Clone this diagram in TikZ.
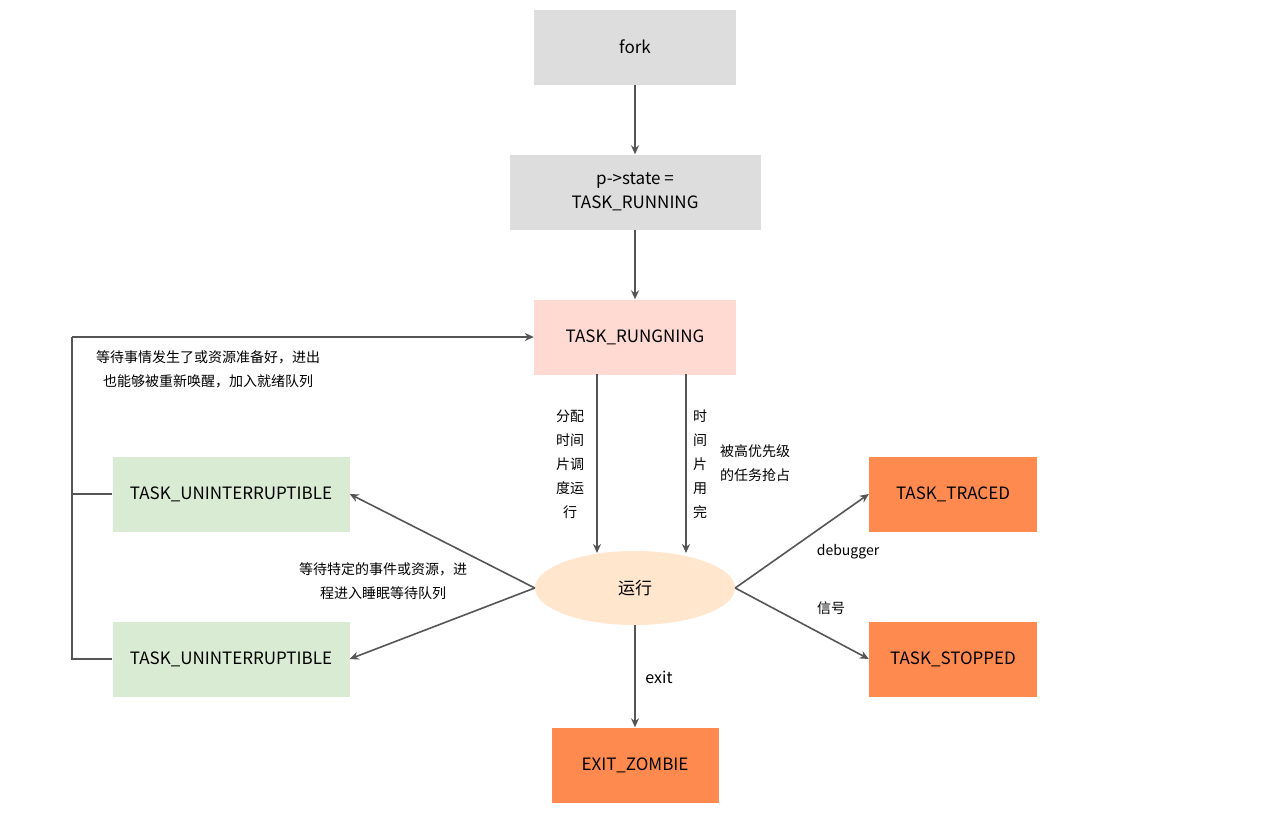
\documentclass[tikz,border=0pt]{standalone}
\usepackage{fontspec}
\setmainfont{Noto Sans CJK SC}
\usetikzlibrary{shapes.geometric,arrows.meta}
\definecolor{gr}{HTML}{DDDDDD}
\definecolor{pk}{HTML}{FFDAD3}
\definecolor{gn}{HTML}{D9EBD3}
\definecolor{og}{HTML}{FF8A50}
\definecolor{el}{HTML}{FFE6CC}
\definecolor{ln}{HTML}{555555}
\begin{document}
\begin{tikzpicture}[x=1pt,y=-1pt,
 box/.style={draw=none,minimum height=75pt,font=\fontsize{17}{20}\selectfont,align=center,inner sep=0},
 arr/.style={draw=ln,line width=1.6pt,-{Stealth[length=9pt,width=8pt]}},
 lab/.style={font=\fontsize{14}{24}\selectfont,align=center,inner sep=0}]
\useasboundingbox[fill=white] (0,0) rectangle (1267,819);
\node[box,fill=gr,minimum width=202pt] (fork) at (635,47) {fork};
\node[box,fill=gr,minimum width=251pt,font=\fontsize{17}{24}\selectfont] (st) at (635,192) {p->state =\\TASK\_RUNNING};
\node[box,fill=pk,minimum width=202pt] (run) at (635,337) {TASK\_RUNGNING};
\node[box,fill=gn,minimum width=237pt] (u1) at (231,494) {TASK\_UNINTERRUPTIBLE};
\node[box,fill=gn,minimum width=237pt] (u2) at (231,659) {TASK\_UNINTERRUPTIBLE};
\node[ellipse,fill=el,minimum width=200pt,minimum height=74pt,inner sep=0,font=\fontsize{17}{20}\selectfont] (e) at (635,588) {运行};
\node[box,fill=og,minimum width=168pt] (tr) at (953,494) {TASK\_TRACED};
\node[box,fill=og,minimum width=168pt] (sp) at (953,659) {TASK\_STOPPED};
\node[box,fill=og,minimum width=167pt] (zb) at (635,765) {EXIT\_ZOMBIE};
\draw[arr] (fork) -- (st);
\draw[arr] (st) -- (run);
\coordinate (r1) at (597,374); \coordinate (e1) at (597,553);
\coordinate (r2) at (686,374); \coordinate (e2) at (686,553);
\draw[arr] (r1) -- (e1);
\draw[arr] (r2) -- (e2);
\node[lab] (l1) at (570,464) {分配\\时间\\片调\\度运\\行};
\node[lab] (l2) at (700,464) {时\\间\\片\\用\\完};
\node[lab] (l3) at (755,463) {被高优先级\\的任务抢占};
\draw[arr] (e.west) -- (u1.east);
\draw[arr] (e.west) -- (u2.east);
\node[lab] (l4) at (383,581) {等待特定的事件或资源，进\\程进入睡眠等待队列};
\coordinate (c1) at (72,494); \coordinate (c2) at (72,659); \coordinate (c3) at (72,337);
\draw[ln,line width=1.6pt] (u1.west) -- (c1);
\draw[ln,line width=1.6pt] (u2.west) -- (c2) -- (c3);
\draw[arr] (c3) -- (run.west);
\node[lab] (l5) at (208,369) {等待事情发生了或资源准备好，进出\\也能够被重新唤醒，加入就绪队列};
\draw[arr] (e.east) -- (tr.west);
\draw[arr] (e.east) -- (sp.west);
\node[lab] (l6) at (848,552) {debugger};
\node[lab] (l7) at (831,608) {信号};
\draw[arr] (e.south) -- (zb.north);
\node[lab,font=\fontsize{16}{20}\selectfont] (l8) at (659,677) {exit};
\end{tikzpicture}
\end{document}
